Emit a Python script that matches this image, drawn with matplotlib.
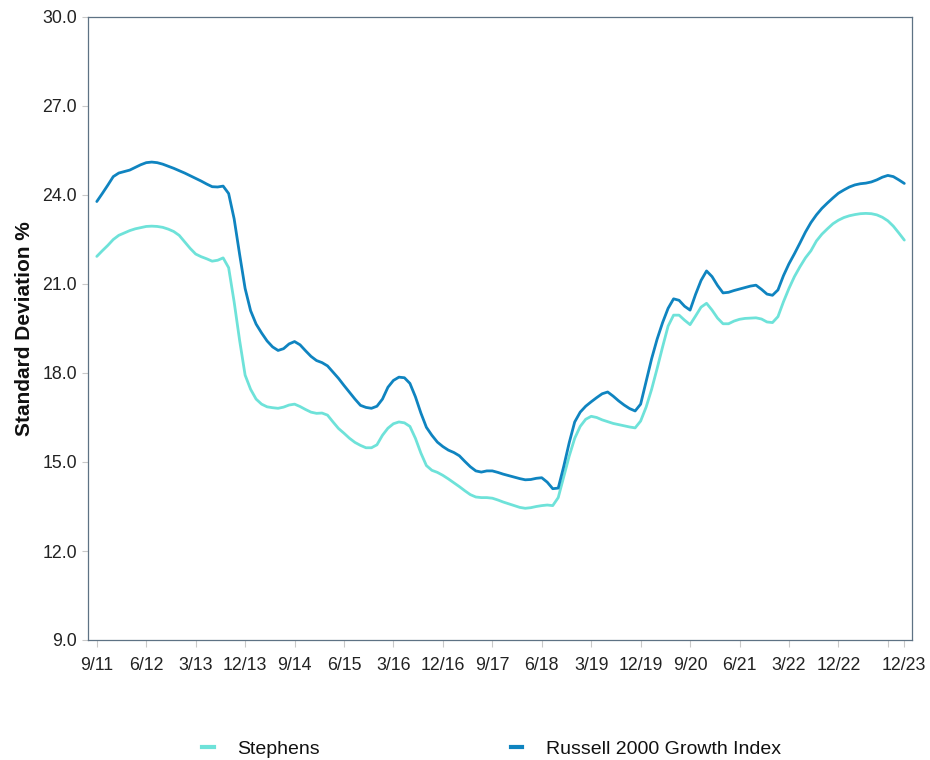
import numpy as np
import pandas as pd
import matplotlib
matplotlib.use("Agg")
import matplotlib.pyplot as plt
from matplotlib.lines import Line2D

# ---- data (monthly rolling standard deviation, %) ----
dates = pd.date_range("2011-09-30", "2023-12-31", freq="ME")

stephens = [
    21.93, 22.12, 22.30, 22.50, 22.64, 22.72, 22.80, 22.86, 22.90, 22.94,
    22.95, 22.94, 22.91, 22.85, 22.77, 22.64, 22.42, 22.20, 22.01, 21.92,
    21.85, 21.77, 21.80, 21.88, 21.55, 20.40, 19.10, 17.93, 17.45, 17.12,
    16.95, 16.86, 16.83, 16.81, 16.85, 16.92, 16.95, 16.87, 16.77, 16.68,
    16.64, 16.65, 16.58, 16.35, 16.13, 15.97, 15.80, 15.66, 15.56, 15.48,
    15.48, 15.58, 15.90, 16.14, 16.29, 16.35, 16.32, 16.20, 15.80, 15.30,
    14.88, 14.72, 14.65, 14.55, 14.43, 14.30, 14.17, 14.03, 13.90, 13.82,
    13.80, 13.80, 13.78, 13.72, 13.65, 13.59, 13.53, 13.47, 13.44, 13.46,
    13.50, 13.53, 13.55, 13.53, 13.80, 14.50, 15.20, 15.80, 16.20, 16.44,
    16.54, 16.50, 16.42, 16.36, 16.30, 16.26, 16.22, 16.18, 16.15, 16.38,
    16.85, 17.45, 18.15, 18.88, 19.58, 19.95, 19.95, 19.78, 19.63, 19.92,
    20.22, 20.35, 20.12, 19.85, 19.66, 19.66, 19.75, 19.81, 19.84, 19.85,
    19.86, 19.82, 19.72, 19.70, 19.90, 20.40, 20.85, 21.25, 21.58, 21.88,
    22.12, 22.45, 22.68, 22.86, 23.03, 23.15, 23.24, 23.30, 23.34, 23.37,
    23.38, 23.37, 23.33, 23.25, 23.13, 22.95, 22.72, 22.48,
]

russell = [
    23.78, 24.05, 24.33, 24.62, 24.74, 24.79, 24.84, 24.93, 25.02, 25.09,
    25.11, 25.09, 25.04, 24.97, 24.90, 24.82, 24.74, 24.65, 24.56, 24.47,
    24.37, 24.28, 24.27, 24.30, 24.05, 23.20, 22.00, 20.85, 20.10, 19.65,
    19.35, 19.08, 18.88, 18.76, 18.82, 18.98, 19.06, 18.95, 18.75, 18.56,
    18.42, 18.35, 18.24, 18.03, 17.82, 17.58, 17.35, 17.12, 16.91, 16.84,
    16.81, 16.88, 17.12, 17.52, 17.75, 17.86, 17.84, 17.65, 17.20, 16.65,
    16.17, 15.90, 15.67, 15.52, 15.40, 15.32, 15.21, 15.02, 14.84, 14.70,
    14.66, 14.70, 14.70, 14.65, 14.59, 14.54, 14.49, 14.44, 14.40, 14.41,
    14.45, 14.47, 14.32, 14.10, 14.12, 14.85, 15.65, 16.35, 16.68, 16.88,
    17.03, 17.17, 17.30, 17.36, 17.22, 17.06, 16.92, 16.80, 16.72, 16.95,
    17.72, 18.48, 19.14, 19.70, 20.18, 20.50, 20.45, 20.25, 20.12, 20.65,
    21.12, 21.44, 21.25, 20.95, 20.70, 20.72, 20.78, 20.83, 20.88, 20.93,
    20.96, 20.82, 20.66, 20.62, 20.80, 21.28, 21.68, 22.02, 22.38, 22.75,
    23.07, 23.33, 23.55, 23.73, 23.90, 24.06, 24.17, 24.27, 24.34, 24.38,
    24.40, 24.44, 24.51, 24.60, 24.66, 24.62, 24.51, 24.39,
]

series_names = ["Stephens", "Russell 2000 Growth Index"]
tick_dates = ["9/11", "6/12", "3/13", "12/13", "9/14", "6/15", "3/16", "12/16",
              "9/17", "6/18", "3/19", "12/19", "9/20", "6/21", "3/22", "12/22",
              "9/23", "12/23"]
tick_texts = ["9/11", "6/12", "3/13", "12/13", "9/14", "6/15", "3/16", "12/16",
              "9/17", "6/18", "3/19", "12/19", "9/20", "6/21", "3/22", "12/22",
              "", "12/23"]
y_ticks = [9.0, 12.0, 15.0, 18.0, 21.0, 24.0, 27.0, 30.0]

# ---- style ----
LIGHT = "#6EE2D9"
DARK = "#0F84C0"
SPINE = "#5E7284"
TICKC = "#C9C9C9"
FONT = ["Liberation Sans", "DejaVu Sans"]

fig = plt.figure(figsize=(9.3, 7.6), dpi=100)
ax = fig.add_axes([88 / 930, 1 - 640 / 760, (912 - 88) / 930, (640 - 17) / 760])

x = np.arange(len(dates))
labels_of_dates = [f"{d.month}/{d.strftime('%y')}" for d in dates]

ax.plot(x, stephens, color=LIGHT, lw=2.0, solid_capstyle="round")
ax.plot(x, russell, color=DARK, lw=2.0, solid_capstyle="round")

ax.set_xlim(-1.6, 148.4)
ax.set_ylim(9, 30)

tick_pos = [labels_of_dates.index(t) for t in tick_dates]
ax.set_xticks(tick_pos)
ax.set_xticklabels(tick_texts, family=FONT, fontsize=12.8, color="#222222")
ax.set_yticks(y_ticks)
ax.set_yticklabels([f"{v:.1f}" for v in y_ticks], family=FONT, fontsize=12.8,
                   color="#222222")

ax.tick_params(axis="x", direction="out", length=5, width=0.8, color=TICKC, pad=7)
ax.tick_params(axis="y", direction="out", length=4, width=0.8, color=TICKC, pad=4)

for s in ax.spines.values():
    s.set_color(SPINE)
    s.set_linewidth(0.9)

ax.set_ylabel("Standard Deviation %", family=FONT,
              fontsize=15, fontweight="bold", color="#111111")
ax.yaxis.set_label_coords(-0.0655, 0.5)

handles = [Line2D([], [], color=LIGHT, lw=3), Line2D([], [], color=DARK, lw=3)]
leg = fig.legend(handles, series_names, loc="center", bbox_to_anchor=(0.5285, 0.014),
                 ncol=2, frameon=False, handlelength=0.6, handletextpad=1.2,
                 columnspacing=9.8, prop={"family": FONT, "size": 14})
for t in leg.get_texts():
    t.set_color("#111111")

fig.savefig("out.png", dpi=100)
